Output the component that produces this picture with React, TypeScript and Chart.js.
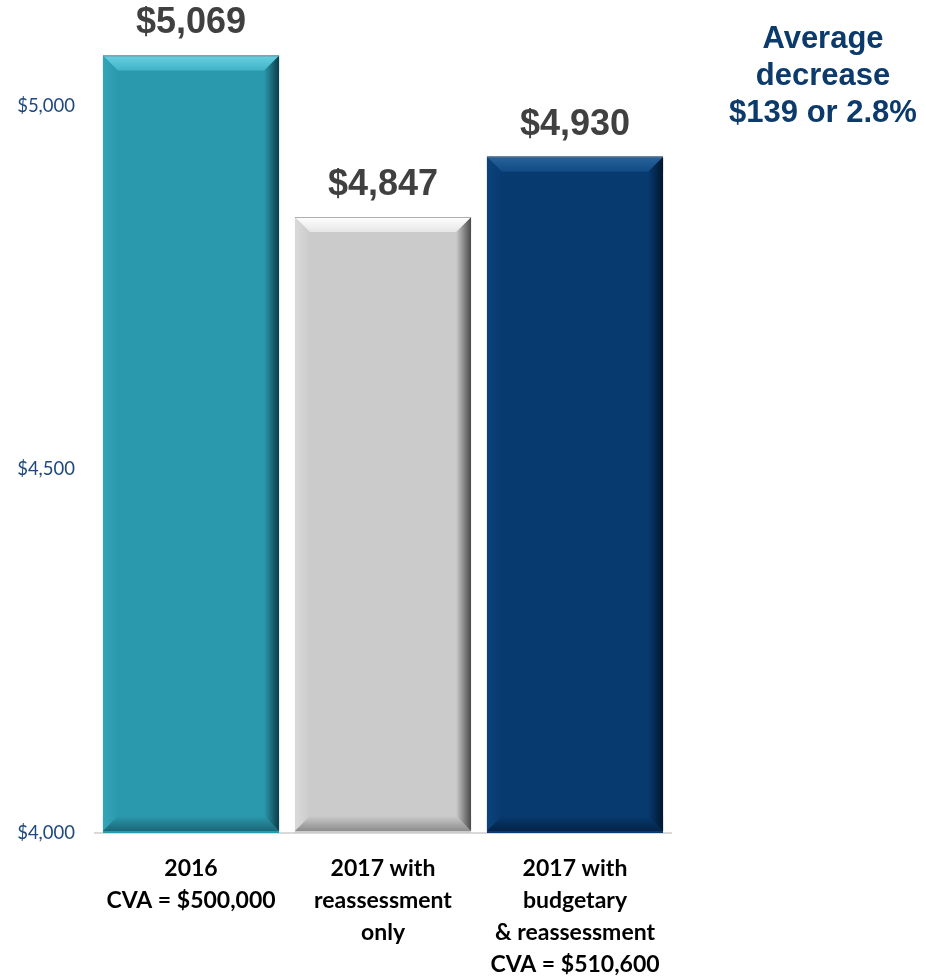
import React, { useEffect, useRef } from "react";
import { Chart, registerables } from "chart.js";

Chart.register(...registerables);

const categories: string[][] = [
  ["2016", "CVA = $500,000"],
  ["2017 with", "reassessment", "only"],
  ["2017 with", "budgetary", "& reassessment", "CVA = $510,600"],
];
const values: number[] = [5069, 4847, 4930];
const valueLabels: string[] = ["$5,069", "$4,847", "$4,930"];
const yTicks: number[] = [4000, 4500, 5000];
const annotationLines: string[] = ["Average", "decrease", "$139 or 2.8%"];

const barColors = ["#2b99ad", "#cbcbcb", "#073a6f"];
const bevel = [
  { top1: "#66d0e2", top2: "#42b4c8", left: "#34a4b8", right: "#0b3d47", bottom: "#1a6775" },
  { top1: "#ffffff", top2: "#e6e6e6", left: "#dadada", right: "#4a4a4a", bottom: "#8c8c8c" },
  { top1: "#2a649c", top2: "#114a84", left: "#0c437c", right: "#01162c", bottom: "#032446" },
];

const bevelPlugin = {
  id: "bevelBars",
  afterDatasetsDraw(chart: any) {
    const ctx = chart.ctx as CanvasRenderingContext2D;
    const meta = chart.getDatasetMeta(0);
    const area = chart.chartArea;
    meta.data.forEach((el: any, i: number) => {
      const { x, y, base, width } = el.getProps(["x", "y", "base", "width"], true);
      const L = x - width / 2;
      const R = x + width / 2;
      const T = y;
      const B = Math.min(base, area.bottom) - 2;
      const b = 15;
      const c = bevel[i];
      ctx.save();
      ctx.fillStyle = barColors[i];
      ctx.fillRect(L, T, R - L, B - T);
      // left
      let g = ctx.createLinearGradient(L, 0, L + b, 0);
      g.addColorStop(0, c.left);
      g.addColorStop(1, barColors[i]);
      ctx.fillStyle = g;
      ctx.beginPath();
      ctx.moveTo(L, T);
      ctx.lineTo(L + b, T + b);
      ctx.lineTo(L + b, B - b);
      ctx.lineTo(L, B);
      ctx.closePath();
      ctx.fill();
      // bottom
      g = ctx.createLinearGradient(0, B - b, 0, B);
      g.addColorStop(0, barColors[i]);
      g.addColorStop(1, c.bottom);
      ctx.fillStyle = g;
      ctx.beginPath();
      ctx.moveTo(L, B);
      ctx.lineTo(L + b, B - b);
      ctx.lineTo(R - b, B - b);
      ctx.lineTo(R, B);
      ctx.closePath();
      ctx.fill();
      // right
      g = ctx.createLinearGradient(R - b, 0, R, 0);
      g.addColorStop(0, barColors[i]);
      g.addColorStop(1, c.right);
      ctx.fillStyle = g;
      ctx.beginPath();
      ctx.moveTo(R, T);
      ctx.lineTo(R, B);
      ctx.lineTo(R - b, B - b);
      ctx.lineTo(R - b, T + b);
      ctx.closePath();
      ctx.fill();
      // top
      g = ctx.createLinearGradient(0, T, 0, T + b);
      g.addColorStop(0, c.top1);
      g.addColorStop(1, c.top2);
      ctx.fillStyle = g;
      ctx.beginPath();
      ctx.moveTo(L, T);
      ctx.lineTo(R, T);
      ctx.lineTo(R - b, T + b);
      ctx.lineTo(L + b, T + b);
      ctx.closePath();
      ctx.fill();
      // thin top outline
      ctx.strokeStyle = "rgba(120,120,120,0.6)";
      ctx.lineWidth = 1;
      ctx.beginPath();
      ctx.moveTo(L, T + 0.5);
      ctx.lineTo(R, T + 0.5);
      ctx.stroke();
      // value label
      ctx.fillStyle = "#404040";
      ctx.font = "bold 36px 'Liberation Sans', Arial, sans-serif";
      ctx.textAlign = "center";
      ctx.textBaseline = "middle";
      ctx.fillText(valueLabels[i], x, T - 32);
      ctx.restore();
    });
    // annotation
    ctx.save();
    ctx.fillStyle = "#0b3a6b";
    ctx.font = "bold 31px 'Liberation Sans', Arial, sans-serif";
    ctx.textAlign = "center";
    ctx.textBaseline = "middle";
    annotationLines.forEach((t, k) => ctx.fillText(t, 823, 39 + k * 37));
    ctx.restore();
  },
};

export default function App() {
  const ref = useRef<HTMLCanvasElement | null>(null);
  useEffect(() => {
    if (!ref.current) return;
    const chart = new Chart(ref.current, {
      type: "bar",
      data: {
        labels: categories,
        datasets: [
          {
            data: values,
            base: 4000,
            backgroundColor: barColors,
            borderWidth: 0,
            barPercentage: 0.917,
            categoryPercentage: 1,
          } as any,
        ],
      },
      options: {
        animation: false,
        responsive: false,
        layout: { padding: { top: 33, right: 255, left: 0, bottom: 0 } },
        plugins: { legend: { display: false }, tooltip: { enabled: false } },
        scales: {
          x: {
            grid: { display: false, drawTicks: false },
            border: { display: true, color: "#d9d9d9", width: 2 },
            ticks: {
              color: "#000000",
              padding: 20,
              maxRotation: 0,
              autoSkip: false,
              font: { family: "Lato, 'Open Sans', sans-serif", size: 23, weight: "bold", lineHeight: "32px" } as any,
            },
            afterFit: (s: any) => {
              s.height = 145;
            },
          },
          y: {
            min: 4000,
            max: 5100,
            grid: { display: false, drawTicks: false },
            border: { display: false },
            afterBuildTicks: (s: any) => {
              s.ticks = yTicks.map((v) => ({ value: v }));
            },
            ticks: {
              color: "#1f497d",
              padding: 20,
              font: { family: "Lato, 'Open Sans', sans-serif", size: 18.5 },
              callback: (v: any) => "$" + Number(v).toLocaleString("en-US"),
            },
            afterFit: (s: any) => {
              s.width = 95;
            },
          },
        },
      },
      plugins: [bevelPlugin],
    });
    return () => chart.destroy();
  }, []);
  return (
    <div style={{ position: "fixed", left: 0, top: 0, width: 926, height: 978, background: "#fff" }}>
      <canvas ref={ref} width={926} height={978} style={{ width: 926, height: 978 }} />
    </div>
  );
}
